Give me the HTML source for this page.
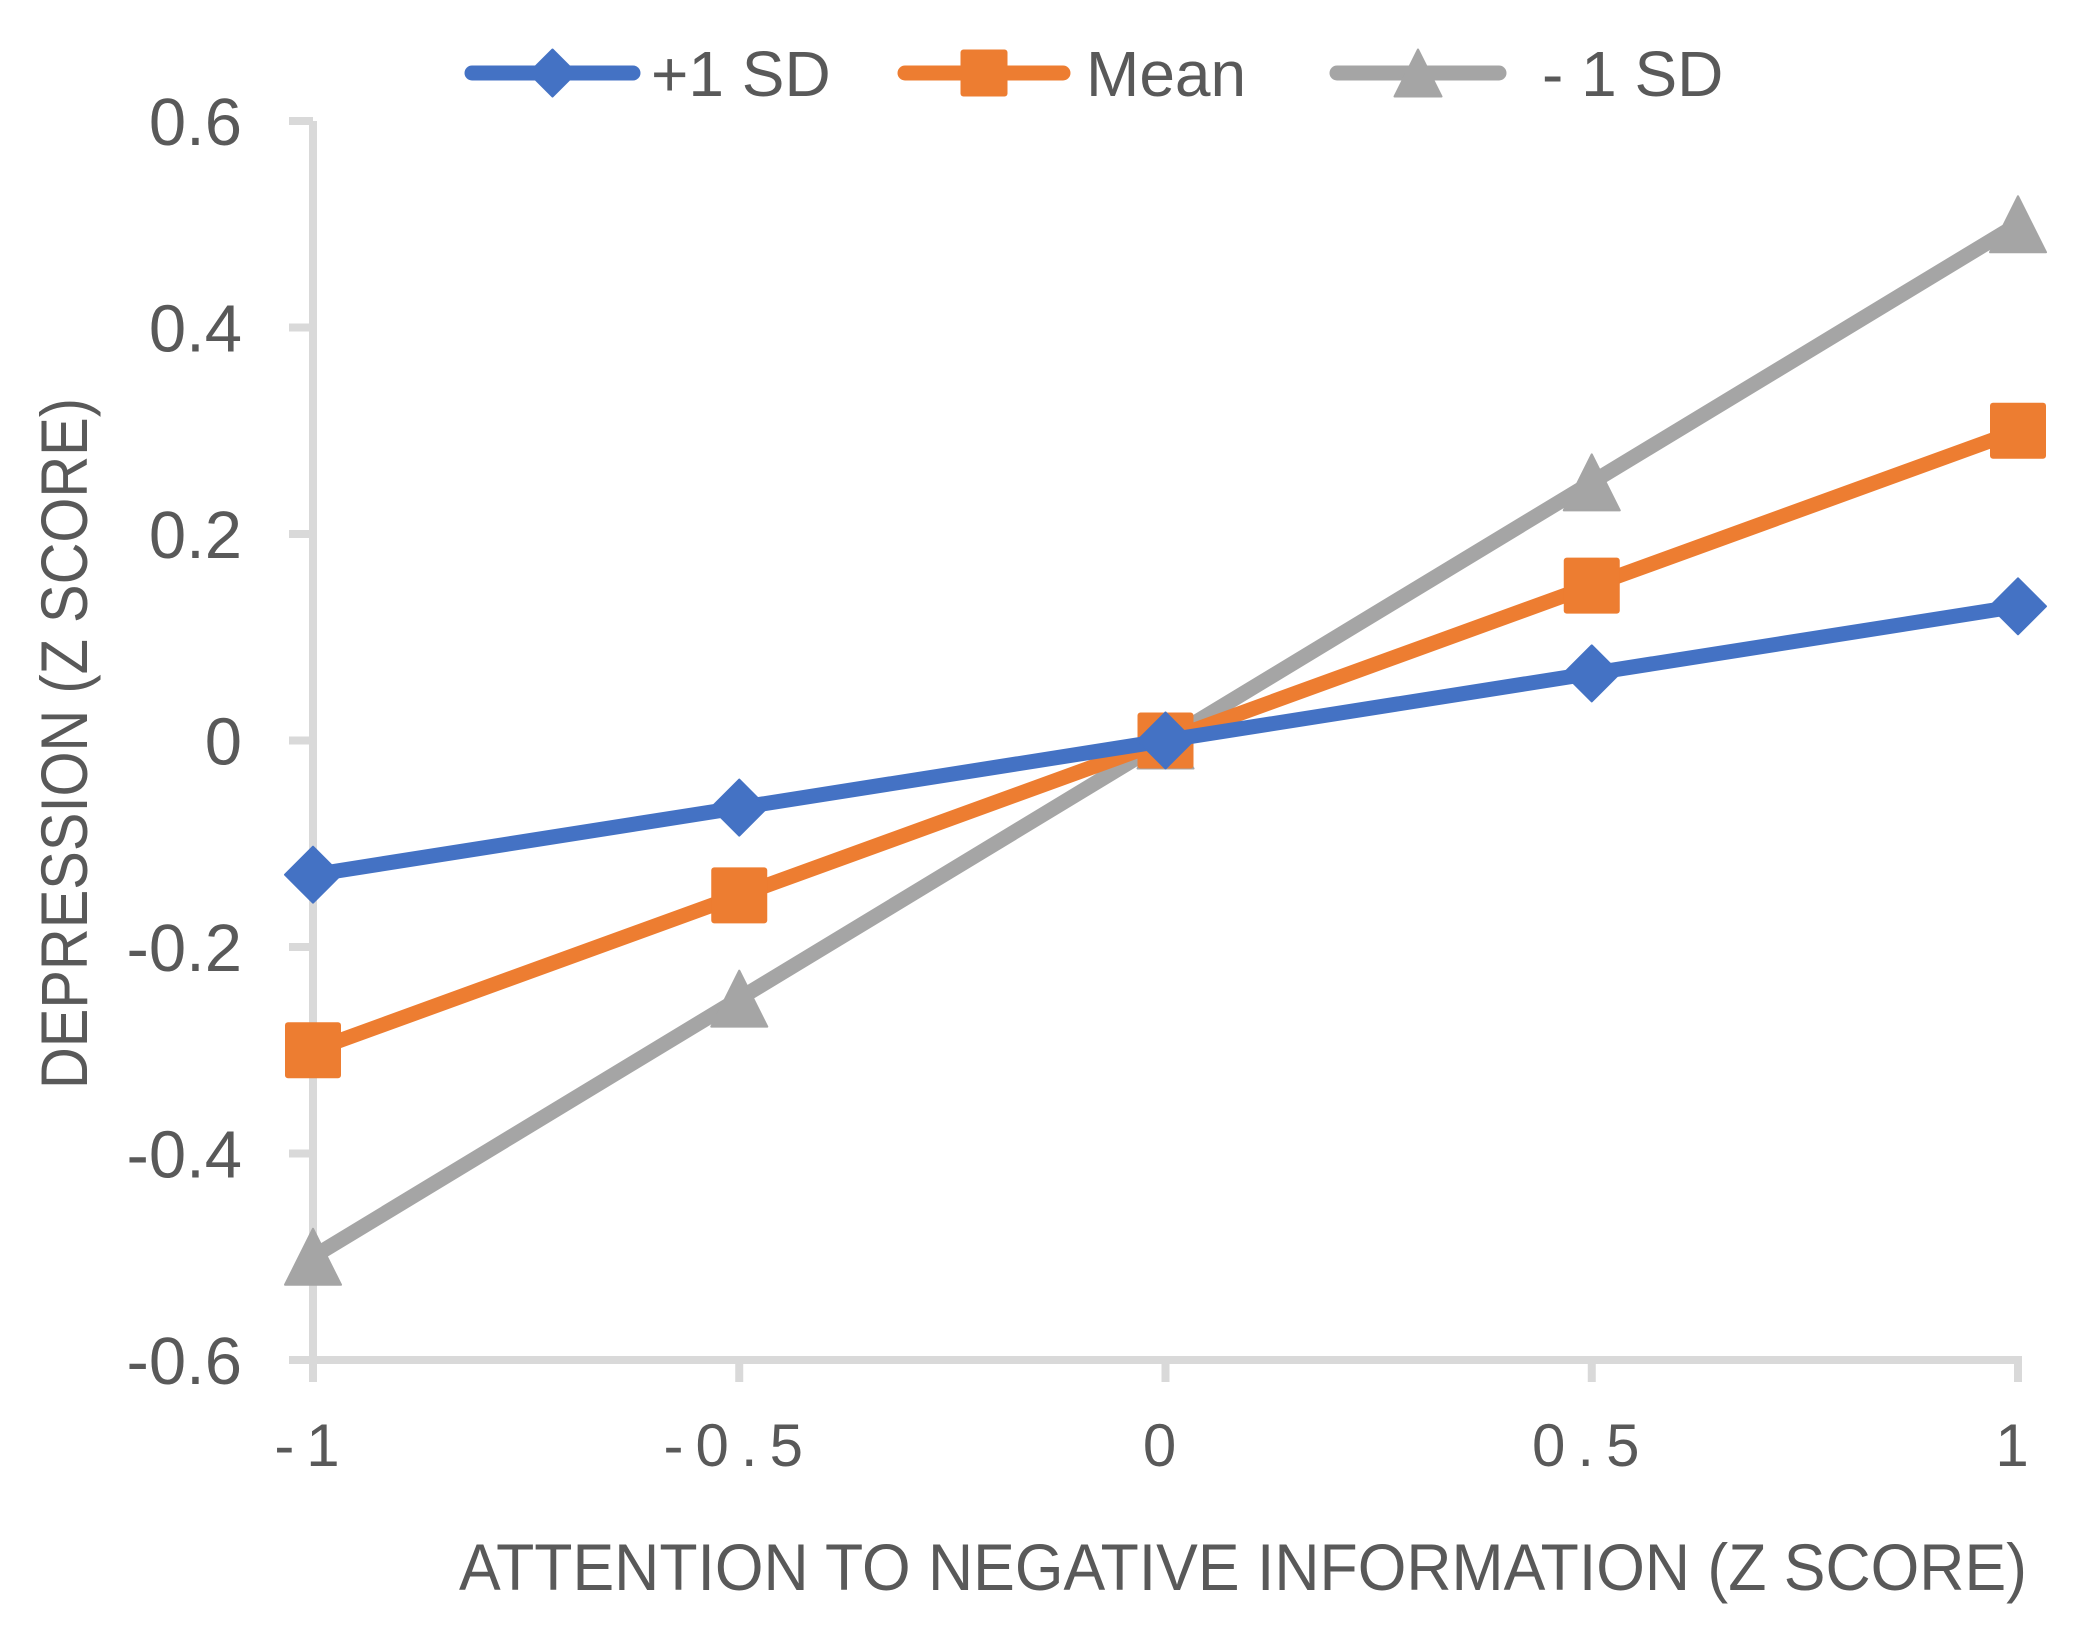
<!DOCTYPE html>
<html><head><meta charset="utf-8"><style>
html,body{margin:0;padding:0;background:#fff;}
svg{display:block;font-family:"Liberation Sans",sans-serif;}
</style></head><body>
<svg id="chart" width="2085" height="1626" viewBox="0 0 2085 1626" xmlns="http://www.w3.org/2000/svg">
<g id="axes"></g>
<g id="series"></g>
<g id="legend"></g>
<text transform="translate(87,1089) rotate(-90)" font-size="66" fill="#595959" textLength="691" lengthAdjust="spacingAndGlyphs">DEPRESSION (Z SCORE)</text>
<text x="459" y="1590" font-size="66" fill="#595959" textLength="1568" lengthAdjust="spacingAndGlyphs">ATTENTION TO NEGATIVE INFORMATION (Z SCORE)</text>
</svg>
<script>
const categories = [-1, -0.5, 0, 0.5, 1];
const xTickLabels = ["-1", "-0.5", "0", "0.5", "1"];
const yTicks = [0.6, 0.4, 0.2, 0, -0.2, -0.4, -0.6];
const yTickLabels = ["0.6", "0.4", "0.2", "0", "-0.2", "-0.4", "-0.6"];
const seriesNames = ["+1 SD", "Mean", "- 1 SD"];
const plus1SD = [-0.13, -0.065, 0, 0.065, 0.13];
const meanVals = [-0.3, -0.15, 0, 0.15, 0.3];
const minus1SD = [-0.5, -0.25, 0, 0.25, 0.5];

const NS = "http://www.w3.org/2000/svg";
const X0 = 313, X1 = 2018, Y0 = 1360, Y1 = 121;
function xs(v){ return X0 + (v + 1) / 2 * (X1 - X0); }
function ys(v){ return Y0 - (v + 0.6) / 1.2 * (Y0 - Y1); }
function mk(tag, attrs, parent){ const e = document.createElementNS(NS, tag); for (const k in attrs) e.setAttribute(k, attrs[k]); parent.appendChild(e); return e; }

const axes = document.getElementById('axes');
const grey = "#d9d9d9";
let yl = mk('line', {x1: X0, y1: Y1, x2: X0, y2: Y0 + 4, stroke: grey, 'stroke-width': 8}, axes);


let xl = mk('line', {x1: X0 - 24, y1: Y0, x2: X1 + 4, y2: Y0, stroke: grey, 'stroke-width': 8}, axes);


yTicks.forEach((t, i) => {
  const y = ys(t);
  const tk = mk('line', {x1: X0 - 24, y1: y, x2: X0, y2: y, stroke: grey, 'stroke-width': 8}, axes);
  
  
  const tx = mk('text', {x: 242, y: y + 24, 'font-size': 67, fill: '#595959', 'text-anchor': 'end'}, axes);
  tx.textContent = yTickLabels[i];
  
  
});
categories.forEach((c, i) => {
  const x = xs(c);
  const tk = mk('line', {x1: x, y1: Y0, x2: x, y2: Y0 + 22, stroke: grey, 'stroke-width': 8}, axes);
  
  
  const tx = mk('text', {x: x, y: 1466, 'font-size': 60, fill: '#595959', 'text-anchor': 'middle', 'letter-spacing': 12}, axes);
  tx.textContent = xTickLabels[i];
  
  
});

const colors = ["#4472c4", "#ed7d31", "#a5a5a5"];
const shapes = ["diamond", "square", "triangle"];
const allSeries = [plus1SD, meanVals, minus1SD];
function marker(parent, shape, cx, cy, s, color){
  let e;
  if (shape === "diamond") e = mk('polygon', {points: `${cx},${cy-s/2} ${cx+s/2},${cy} ${cx},${cy+s/2} ${cx-s/2},${cy}`, fill: color, 'stroke': color, 'stroke-width': 2, 'stroke-linejoin': 'round'}, parent);
  else if (shape === "square") e = mk('rect', {x: cx - s/2, y: cy - s/2, width: s, height: s, rx: 3, fill: color}, parent);
  else e = mk('polygon', {points: `${cx},${cy-s/2} ${cx+s/2},${cy+s/2} ${cx-s/2},${cy+s/2}`, fill: color, 'stroke': color, 'stroke-width': 2, 'stroke-linejoin': 'round'}, parent);
  return e;
}
const sg = document.getElementById('series');
[2, 1, 0].forEach(si => {
  const g = mk('g', {}, sg);
  
  
  const vals = allSeries[si];
  const pts = vals.map((v, i) => xs(categories[i]) + ',' + ys(v)).join(' ');
  const pl = mk('polyline', {points: pts, fill: 'none', stroke: colors[si], 'stroke-width': 15, 'stroke-linejoin': 'round', 'stroke-linecap': 'round'}, g);
  
  
  vals.forEach((v, i) => {
    const m = marker(g, shapes[si], xs(categories[i]), ys(v), 56, colors[si]);
    
    
  });
});

const lg = document.getElementById('legend');
const legX = [[465, 640, 651], [898, 1070, 1086], [1330, 1506, 1542]];
seriesNames.forEach((n, i) => {
  const g = mk('g', {}, lg);
  
  
  mk('line', {x1: legX[i][0] + 7, y1: 73, x2: legX[i][1] - 7, y2: 73, stroke: colors[i], 'stroke-width': 15, 'stroke-linecap': 'round'}, g);
  marker(g, shapes[i], (legX[i][0] + legX[i][1]) / 2, 73, 47, colors[i]);
  const t = mk('text', {x: legX[i][2], y: 96, 'font-size': 64, fill: '#595959'}, g);
  t.textContent = n;
  
  
});
</script>
</body></html>
